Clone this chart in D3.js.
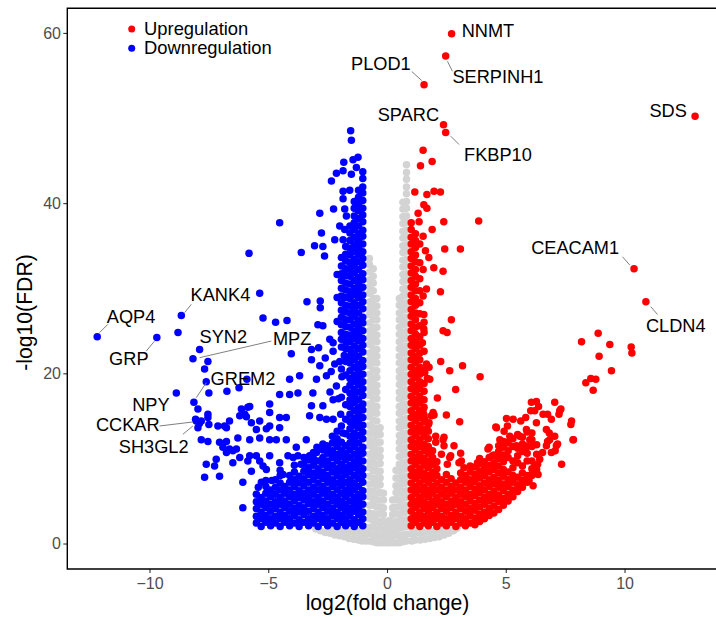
<!DOCTYPE html>
<html><head><meta charset="utf-8">
<script src="https://cdn.jsdelivr.net/npm/d3@7"></script>
<style>html,body{margin:0;padding:0;background:#fff;} svg{display:block;}</style>
</head><body>
<svg id="chart" width="716" height="619"></svg>
<script>
// ---------------- DATA (log2 fold change, -log10 FDR) ----------------
const xTicks = [-10, -5, 0, 5, 10];
const yTicks = [0, 20, 40, 60];
const legendLabels = ["Upregulation", "Downregulation"];

// not significant (grey), dense columns: [log2FC, -log10FDR ...]
const nsCols = [
 [-3.0,1.7],[-2.8,1.5],[-2.6,1.3],[-2.4,1.2,1.9],[-2.2,1.0,1.8],[-2.0,0.9,1.7],[-1.8,0.8,1.6],[-1.6,0.6,1.4],[-1.4,0.5,1.3],[-1.2,0.4,1.2,1.9],[-1.05,0.3,1.1,1.8],
 [-0.88,0.3,1.1,1.9],
 [-0.74,0.3,1.2,1.9,2.9,3.6,4.5,5.5,6.2,7.0,7.9,8.9,9.6,10.5,11.5,12.2,13.0,13.9,14.9,15.6,16.4,17.4,18.2,19.0,19.9,20.9,21.6,22.4,23.4,24.2,25.0,25.9,26.9,27.6,28.4,29.4,30.2,31.0,31.9,32.8,33.5],
 [-0.58,0.2,1.0,1.9,2.7,3.5,4.5,5.2,6.1,7.0,7.7,8.6,9.5,10.3,11.1,12.0,12.9,13.6,14.5,15.4,16.2,17.0,17.9,18.8,19.5,20.4,21.3,22.1,22.9,23.8,24.7,25.4,26.3,27.2,28.0,28.8,29.7,30.6,31.4,32.3],
 [-0.43,0.1,0.9,1.7,2.6,3.4,4.3,5.1,5.9,6.8,7.6,8.5,9.3,10.2,11.0,11.8,12.7,13.5,14.4,15.3,16.1,17.0,17.8,18.6,19.5,20.3,21.2,22.0,22.8,23.7,24.5,25.4,26.3,27.1,27.9,28.8],
 [-0.29,0.1,0.9,1.8,2.6,3.5,4.3,5.1,6.0,6.9,7.7,8.5,9.4,10.2,11.0,11.9,12.8,13.6],
 [-0.15,0.1,0.9,1.7,2.6,3.4,4.2,5.1,5.9],
 [-0.02,0.1,0.9,1.7,2.5],
 [0.1,0.1,0.9,1.8,2.7],
 [0.24,0.1,0.9,1.7,2.5,3.4,4.2,5.1],
 [0.38,0.1,1.0,1.8,2.6,3.5,4.3,5.2,6.0,6.8,7.7,8.6],
 [0.52,0.1,0.9,1.8,2.6,3.4,4.3,5.1,6.0,6.8,7.6,8.5,9.3,10.2,11.1,11.9,12.7,13.6,14.4,15.3,16.1,17.0,17.8,18.7,19.5,20.3,21.2,22.0,22.9,23.7,24.6,25.4,26.3,27.1,28.0,28.8],
 [0.67,0.2,1.0,1.9,2.7,3.6,4.4,5.3,6.1,7.0,7.8,8.7,9.5,10.4,11.2,12.1,12.9,13.8,14.6,15.5,16.3,17.2,18.0,18.9,19.7,20.6,21.4,22.3,23.1,24.0,24.8,25.7,26.5,27.4,28.2,29.1,29.9,30.8,31.6,32.5,33.3,34.2,35.0,35.9,36.7,37.6,38.4,39.3,40.1],
 [0.82,0.3,1.1,2.0,2.8,3.7,4.5,5.4,6.2,7.1,7.9,8.8,9.6,10.5,11.3,12.2,13.0,13.9,14.7,15.6,16.4,17.3,18.1,19.0,19.8,20.7,21.5,22.4,23.2,24.1,24.9,25.8,26.6,27.5,28.3,29.2,30.0,30.9,31.7,32.6,33.4,34.3,35.1,36.0,36.8,37.7,38.5,39.4,40.2,41.1,41.9,42.8,43.6,44.5],
 [1.05,0.3,1.1,1.8],[1.2,0.4,1.2,1.9],[1.4,0.4,1.2],[1.6,0.5,1.3],[1.8,0.6,1.4],[2.0,0.7,1.5],[2.2,0.8,1.6],[2.4,1.0,1.8],[2.6,1.2,1.9],[2.8,1.5],[2.95,1.8]
];

// downregulated (blue), dense columns
const downCols = [
 [-1.02,2.1,2.9,3.7,4.6,5.5,6.2,7.2,8.0,8.8,9.7,10.6,11.3,12.3,13.1,13.9,14.8,15.7,16.4,17.4,18.2,19.0,19.9,20.8,21.5,22.5,23.3,24.1,25.0,25.9,26.6,27.6,28.4,29.2,30.1,31.0,31.7,32.7,33.5,34.3,35.2,36.1,36.8,37.8,38.6,39.4,40.3,41.2,41.9,42.9,43.7],
 [-1.2,2.5,3.4,4.2,5.0,5.8,6.7,7.6,8.5,9.3,10.1,10.9,11.8,12.7,13.6,14.4,15.2,16.0,16.9,17.8,18.7,19.5,20.3,21.1,22.0,22.9,23.8,24.6,25.4,26.2,27.1,28.0,28.9,29.7,30.5,31.3,32.2,33.1,34.0,34.8,35.6,36.4,37.3,38.2,39.1,39.9,40.7,41.5],
 [-1.38,2.0,2.8,3.8,4.6,5.4,6.3,7.1,8.0,8.9,9.6,10.5,11.4,12.2,13.0,13.9,14.7,15.6,16.5,17.3,18.1,19.0,19.8,20.7,21.6,22.4,23.2,24.1,24.9,25.8,26.7,27.5,28.3,29.2,30.0,30.9,31.8,32.6,33.4,34.3,35.1,36.0,36.9,37.7,38.5,39.4,40.2],
 [-1.56,2.4,3.3,4.1,5.0,5.9,6.7,7.5,8.4,9.2,10.1,11.0,11.8,12.6,13.5,14.3,15.2,16.1,16.9,17.7,18.6,19.4,20.3,21.2,22.0,22.8,23.7,24.5,25.4,26.3,27.1,27.9,28.8,29.6,30.5,31.4,32.2,33.0,33.9,34.7,35.6,36.5,37.3],
 [-1.74,2.1,2.9,3.8,4.6,5.5,6.3,7.2,8.1,8.9,9.8,10.6,11.5,12.9,14.6,16.3,18.1,19.8,21.4,22.9,23.8,24.6,25.5,26.3,27.2,28.0,28.9,29.8,30.6,31.5,32.3,33.2,34.0,34.9],
 [-1.92,2.5,3.3,4.2,5.0,5.9,6.8,7.6,8.5,9.3,10.2,11.0,11.9,13.8,17.2,20.5,23.1,24.0,24.8,25.7,26.6,27.4,28.3,29.1,30.0,30.9,31.7,32.6,33.6],
 [-2.1,2.0,2.9,3.7,4.6,5.4,6.3,7.1,8.0,8.8,9.7,10.5,11.4,12.3,13.2,26.1,28.9,31.6],
 [-2.3,2.4,3.3,4.1,5.0,5.8,6.7,7.5,8.4,9.2,10.1,10.9,11.8,12.6],
 [-2.5,2.1,2.9,3.8,4.6,5.5,6.3,7.2,8.0,8.9,9.7,10.6,11.4],
 [-2.7,2.5,3.3,4.2,5.0,5.9,6.7,7.6,8.4,9.3,10.1,11.0,11.7],
 [-2.9,2.0,2.9,3.7,4.6,5.4,6.3,7.1,8.0,8.8,9.7],
 [-3.1,2.4,3.2,4.1,4.9,5.8,6.6,7.5,8.3,9.2,10.0,10.7],
 [-3.3,2.1,2.9,3.8,4.7,5.5,6.3,7.2,8.1,8.9,9.8],
 [-3.5,2.5,3.4,4.2,5.1,5.9,6.8,7.6,8.5,9.3,10.1],
 [-3.7,2.0,2.8,3.7,4.5,5.4,6.2,7.1,7.9],
 [-3.9,2.4,3.3,4.1,5.0,5.8,6.7,7.5,8.4,9.2],
 [-4.1,2.1,2.9,3.8,4.6,5.5,6.3,7.2,8.0],
 [-4.3,2.5,3.3,4.2,5.0,5.9,6.7],
 [-4.5,2.0,2.9,3.7,4.6,5.4,6.3,7.1,8.0,8.6],
 [-4.7,2.4,3.2,4.1,4.9,5.8,6.6,7.5],
 [-4.9,2.1,2.9,3.8,4.6,5.5,6.3],
 [-5.1,2.5,3.3,4.2,5.0,5.9,6.7,7.4],
 [-5.3,2.0,2.9,3.7,4.6,5.4],
 [-5.5,2.4,3.2,4.1,4.9,5.8]
];

// downregulated (blue), scattered points [log2FC, -log10FDR]
const downPts = [
 [-1.53,48.5],[-1.50,47.4],[-1.22,45.4],[-1.43,45.1],[-1.29,44.2],[-1.82,44.8],[-2.13,43.5],[-2.34,42.6],[-1.85,43.8],[-1.50,43.4],[-1.57,41.5],[-1.85,41.4],[-1.85,40.5],[-1.78,39.3],[-2.25,39.3],[-1.71,38.5],[-1.99,37.3],[-1.78,36.9],[-2.83,38.8],[-2.76,36.5],[-3.05,35.0],[-2.70,34.9],[-2.63,33.8],[-3.61,34.2],[-2.20,35.7],[-1.85,35.7],[-4.52,37.7],[-5.81,34.1],[-5.36,29.4],[-3.37,28.4],[-2.81,28.5],[-2.81,27.7],[-2.91,25.7],[-2.70,25.6],
 [-8.80,24.8],[-7.54,21.4],[-7.68,20.5],[-7.61,19.0],[-7.50,17.7],[-7.96,15.8],[-8.06,14.6],[-7.82,14.4],[-7.54,14.8],[-7.50,14.0],[-7.96,13.6],[-7.54,15.2],[-7.12,13.8],[-6.84,13.8],[-6.63,14.4],[-6.76,13.6],[-6.13,15.8],[-5.78,16.1],[-6.20,15.0],[-5.92,14.9],[-5.71,14.2],[-5.36,14.4],[-5.50,13.4],[-5.08,13.5],[-4.94,13.8],[-4.52,13.6],[-4.24,14.8],[-4.52,14.8],[-4.94,16.4],[-4.94,15.4],[-4.52,17.5],[-4.10,17.5],[-3.75,17.7],[-4.10,19.3],[-3.68,19.7],[-4.03,22.3],[-3.18,21.6],[-2.97,19.3],[-3.12,17.7],[-3.18,16.2],[-3.26,15.0],[-2.83,14.8],[-2.55,14.6],[-2.27,14.6],[-2.70,16.2],[-2.27,16.9],[-2.13,18.5],[-2.20,21.1],[-1.99,21.4],[-2.27,23.6],[-1.71,23.6],[-2.83,20.9],[-2.55,19.7],[-5.90,19.3],[-6.74,17.9],[-6.23,18.3],[-5.86,16.0],[-5.99,15.2],
 [-7.82,12.2],[-7.54,12.0],[-7.05,11.9],[-6.76,12.0],[-6.28,12.4],[-5.78,12.2],[-5.36,12.4],[-4.94,12.2],[-4.66,12.2],[-4.24,12.2],[-3.82,11.3],[-3.40,12.2],[-3.26,10.3],[-2.97,10.7],[-2.55,11.5],[-2.13,11.9],
 [-7.61,9.3],[-7.26,9.1],[-7.68,7.8],[-7.05,7.9],[-7.19,9.9],[-6.76,10.7],[-6.49,9.5],[-6.20,10.1],[-5.78,10.3],[-5.36,9.7],[-4.94,10.3],[-4.52,9.5],[-4.17,10.3],[-3.75,10.3],
 [-6.07,4.2],[-5.29,7.2],[-5.08,8.7],[-5.71,8.5],[-6.63,11.1],[-6.91,11.3],[-6.34,11.1],[-6.07,7.2],[-6.49,10.9],[-5.86,9.7],[-5.50,10.3],[-5.22,9.1],
 [-5.22,26.5],[-4.69,26.0],[-4.21,26.2],[-3.18,22.8],[-2.88,23.0],[-2.41,24.0],[-2.27,22.6],
 [-1.95,15.2],[-2.05,17.0],[-1.90,19.6],[-2.35,20.2],[-1.80,22.1],[-2.40,17.8],[-2.60,21.8],[-1.86,13.0],
 [-4.38,8.1],[-3.62,9.3],[-4.85,7.4],[-5.42,6.6],[-2.95,11.3],[-3.95,10.1]
];

// upregulated (red), dense columns
const upCols = [
 [1.02,2.1,2.9,3.8,4.6,5.4,6.3,7.1,8.0,8.8,9.7,10.5,11.4,12.2,13.1,13.9,14.8,15.6,16.5,17.3,18.2,19.0,19.9,20.7,21.6,22.4,23.3,24.1,25.0,25.8,26.7,27.5,28.4,29.2,30.1,30.9,31.8,32.6,33.5,34.3,35.2,36.0,36.9,37.7],
 [1.2,2.5,3.3,4.2,5.0,5.9,6.7,7.6,8.4,9.3,10.1,11.0,11.8,12.7,13.5,14.4,15.2,16.1,16.9,17.8,18.6,19.5,20.3,21.2,22.0,22.9,23.7,24.6,25.4,26.3,27.1,28.0,28.8,29.7,30.5,31.4,32.2,33.1,33.9,34.8,35.6,36.4],
 [1.38,2.0,2.9,3.7,4.6,5.4,6.3,7.1,8.0,8.8,9.7,10.5,11.4,12.2,13.1,13.9,14.8,15.6,16.5,17.3,18.2,19.0,19.9,20.7,21.6,22.4,23.3,24.3,25.6,27.0,28.3,29.7,31.1,33.0,35.2],
 [1.56,2.4,3.2,4.1,4.9,5.8,6.6,7.5,8.3,9.2,10.0,10.9,11.7,12.6,13.4,14.3,15.1,16.0,16.9,17.9,18.8,20.4],
 [1.74,2.1,2.9,3.8,4.6,5.5,6.3,7.2,8.0,8.9,9.7,10.6,11.4,12.3,13.2,14.0],
 [1.92,2.5,3.3,4.2,5.0,5.9,6.7,7.6,8.4,9.3,10.1,10.9],
 [2.1,2.0,2.9,3.7,4.6,5.4,6.3,7.1,8.0,8.8,9.6],
 [2.3,2.4,3.2,4.1,4.9,5.8,6.6,7.5],
 [2.5,2.1,2.9,3.8,4.6,5.5,6.3,7.2,8.1],
 [2.7,2.5,3.3,4.2,5.0,5.9,6.7,7.6],
 [2.9,2.0,2.9,3.7,4.6,5.4,6.3,7.1],
 [3.1,2.4,3.2,4.1,4.9,5.8,6.6,7.5,8.3],
 [3.3,2.1,2.9,3.8,4.6,5.5,6.3,7.2,8.0],
 [3.5,2.4,3.3,4.1,5.0,5.8,6.7,7.5,8.4,9.1],
 [3.7,2.2,3.0,3.9,4.7,5.6,6.4,7.3,8.1,9.0],
 [3.9,2.6,3.4,4.3,5.1,6.0,6.8,7.7,8.5,9.4,10.0],
 [4.1,2.9,3.7,4.6,5.4,6.3,7.1,8.0,8.8,9.6],
 [4.3,3.3,4.1,5.0,5.8,6.7,7.5,8.4,9.2,10.1],
 [4.5,3.6,4.4,5.3,6.1,7.0,7.8,8.7,9.5,10.4],
 [4.7,4.0,4.9,5.7,6.6,7.4,8.3,9.1,10.0,10.8,11.5],
 [4.9,4.5,5.3,6.2,7.0,7.9,8.7,9.6,10.4,11.3,12.0],
 [5.1,5.0,5.8,6.7,7.5,8.4,10.1,10.9,11.8],
 [5.3,5.5,6.3,7.2,8.0,8.9,9.7,11.4,12.3],
 [5.5,6.1,6.9,7.8,9.5,10.3,11.2,12.8],
 [5.7,6.6,7.4,8.3,9.1,10.8,11.7,12.5],
 [5.9,7.2,8.0,9.7,10.6,11.4,13.1],
 [6.1,8.0,8.8,9.7,11.4,12.2,13.0],
 [6.3,8.7,10.5,11.6]
];

// upregulated (red), scattered points
const upPts = [
 [1.52,46.2],[1.41,44.4],[1.90,44.9],[1.17,41.3],[1.68,41.0],[1.98,41.4],[2.25,41.3],[1.55,39.8],[1.68,39.4],[1.31,38.8],[1.35,37.8],[2.39,37.8],[3.86,37.9],[1.90,36.9],[1.52,36.1],[2.43,34.6],[3.09,34.6],[1.62,34.4],[1.76,33.6],[1.97,32.4],[2.36,32.0],[1.52,32.2],[1.66,29.9],[2.25,29.6],[1.52,29.1],[1.55,26.9],[2.71,26.3],[1.55,25.2],[2.36,25.0],[2.53,24.8],[1.56,26.0],[1.56,24.8],[1.49,23.6],[1.56,22.6],
 [2.26,21.4],[2.64,20.3],[3.18,20.9],[3.92,19.6],[2.89,18.1],[2.12,17.1],[1.70,19.4],[1.77,20.7],[2.50,15.1],[3.06,14.3],[1.98,15.1],[1.77,14.2],[2.05,12.6],[2.40,12.5],[2.05,11.9],[2.40,11.5],[2.82,11.5],[3.10,10.6],[2.68,10.3],[2.54,9.3],[3.03,9.5],[2.36,12.2],[2.29,10.5],[2.64,10.1],[3.13,9.7],[3.83,9.3],
 [4.25,11.1],[4.61,13.6],[5.03,14.7],[5.31,14.6],[4.75,12.2],[5.03,11.9],[5.17,12.6],[5.45,11.5],[5.59,12.6],[5.87,13.4],[6.01,12.2],[5.80,11.5],[6.29,14.2],[6.22,15.6],[6.08,16.6],[6.29,16.7],[6.57,15.2],[6.71,13.4],[6.85,12.2],[7.06,12.6],[6.71,11.5],[7.13,11.5],[6.92,10.7],[7.06,16.6],[7.27,15.6],[6.92,14.6],[7.77,14.4],[7.83,12.2],[7.35,9.3],[6.36,8.1],[6.15,6.8],[5.94,7.6],[6.43,9.9],[6.22,9.1],
 [1.52,15.6],[1.87,15.0],[1.94,15.4],[1.59,14.6],[1.66,21.1],[1.59,20.1],[1.80,19.3],
 [4.58,13.7],[5.63,14.4],[5.84,14.8],[6.05,15.6],[6.38,16.1],[6.76,15.2],[7.32,15.8],[7.24,15.2],[7.74,14.0],[7.85,12.2],[7.08,10.9],[7.18,11.7],[6.83,13.0],[6.76,12.0],[6.55,10.7],[6.34,9.3],[6.12,8.3],[5.98,7.4],[5.07,13.8],[4.93,13.2],[4.30,11.3],[4.44,10.3],[3.81,9.5],[4.09,9.5],[3.24,8.9],
 [8.19,23.7],[8.89,24.7],[9.38,23.4],[8.93,22.0],[9.45,20.3],[10.28,23.1],[10.31,22.4],[8.37,18.9],[8.58,19.4],[8.79,19.3],[8.68,18.0]
];

// labelled genes
const labelGenes = ["NNMT","SERPINH1","PLOD1","SPARC","FKBP10","SDS","CEACAM1","CLDN4","AQP4","GRP","KANK4","SYN2","MPZ","GREM2","NPY","CCKAR","SH3GL2"];
const labelLog2FC = [2.72,2.47,1.56,2.38,2.47,12.97,10.4,10.9,-12.2,-9.69,-8.66,-7.89,-8.17,-8.13,-8.87,-8.03,-7.9];
const labelLogFDR = [59.9,57.3,53.9,49.2,48.3,50.2,32.3,28.4,24.3,24.2,26.8,22.8,21.7,16.6,17.7,14.4,14.1];

// ---------------- LAYOUT / STYLE ----------------
const COLORS = {up:"#FF0000", down:"#0000FF", ns:"#D3D3D3"};
const R = 3.75;
const FONT = "'Liberation Sans', Arial, Helvetica, sans-serif";
const LABEL_FS = 18.2, LEGEND_FS = 18.4, TICK_FS = 16, TITLE_FS = 21.2;
const panel = {left:67.3, top:8.3, right:725, bottom:569};
// text offsets (px) of each label from its point; seg = [x1,y1,x2,y2] offsets of leader line
const labelLayout = {
 NNMT:{dx:10.1,dy:-3.5,a:"start"},
 SERPINH1:{dx:6.8,dy:20.4,a:"start",seg:[1.8,5.4,6.8,15.4]},
 PLOD1:{dx:-13.3,dy:-21.3,a:"end",seg:[-2.3,-4.3,-12.3,-13.3]},
 SPARC:{dx:-4.5,dy:-10.3,a:"end"},
 FKBP10:{dx:18.4,dy:22,a:"start",seg:[5.1,3.7,13.4,12]},
 SDS:{dx:-8.2,dy:-5.8,a:"end"},
 CEACAM1:{dx:-14.9,dy:-20.9,a:"end",seg:[-4.2,-3.5,-11.5,-11.9]},
 CLDN4:{dx:0,dy:23.6,a:"start",seg:[4.9,4.9,11.6,12.6]},
 AQP4:{dx:9.6,dy:-20.7,a:"start",seg:[2.3,-4.1,10.6,-12.4]},
 GRP:{dx:-8.3,dy:21.1,a:"end",seg:[-2.3,3.5,-10.6,13.5]},
 KANK4:{dx:9.3,dy:-21.1,a:"start",seg:[3.3,-2.8,10,-11.1]},
 SYN2:{dx:0,dy:-13.4,a:"start"},
 MPZ:{dx:80,dy:-20.2,a:"start",seg:[6.7,-1.2,78.4,-17.8]},
 GREM2:{dx:16.7,dy:-23.6,a:"start",seg:[2.4,-4.6,12.4,-19.6]},
 NPY:{dx:-6.7,dy:11.4,a:"end"},
 CCKAR:{dx:-36.7,dy:3.3,a:"end",seg:[-3.4,1,-36.7,5]},
 SH3GL2:{dx:-10.8,dy:22.5,a:"end",seg:[-6.5,2.5,-16.5,10.8]}
};

// ---------------- DRAW ----------------
const svg = d3.select("#chart");
const x = d3.scaleLinear().domain([-13.46, 14.23]).range([panel.left, panel.right]);
const y = d3.scaleLinear().domain([-2.995, 62.895]).range([panel.bottom, panel.top]);

function flatten(cols){ const out=[]; cols.forEach(c=>{ for(let i=1;i<c.length;i++) out.push([c[0],c[i]]); }); return out; }
const nsAll = flatten(nsCols);
const downAll = flatten(downCols).concat(downPts);
const upAll = flatten(upCols).concat(upPts);
const labelled = labelGenes.map((g,i)=>({g, fc:labelLog2FC[i], q:labelLogFDR[i]}));

svg.append("rect").attr("width",716).attr("height",619).attr("fill","#fff");

const gPts = svg.append("g");
function drawPts(data, color){
  gPts.append("g").selectAll("circle").data(data).join("circle")
    .attr("cx",d=>x(d[0])).attr("cy",d=>y(d[1])).attr("r",R).attr("fill",color);
}
drawPts(nsAll, COLORS.ns);
drawPts(downAll, COLORS.down);
drawPts(upAll, COLORS.up);
gPts.append("g").selectAll("circle").data(labelled).join("circle")
  .attr("cx",d=>x(d.fc)).attr("cy",d=>y(d.q)).attr("r",R)
  .attr("fill",d=>d.fc>0?COLORS.up:COLORS.down);

// labels & leader lines
const gLab = svg.append("g");
labelled.forEach(d=>{
  const L = labelLayout[d.g]; const px = x(d.fc), py = y(d.q);
  if (L.seg) gLab.append("line")
    .attr("x1",px+L.seg[0]).attr("y1",py+L.seg[1]).attr("x2",px+L.seg[2]).attr("y2",py+L.seg[3])
    .attr("stroke","#808080").attr("stroke-width",1);
  gLab.append("text").attr("x",px+L.dx).attr("y",py+L.dy+0.358*LABEL_FS)
    .attr("text-anchor",L.a).attr("font-family",FONT).attr("font-size",LABEL_FS).attr("fill","#000")
    .text(d.g);
});

// axes
const xAxis = svg.append("g").attr("transform",`translate(0,${panel.bottom})`)
  .call(d3.axisBottom(x).tickValues(xTicks).tickSize(4).tickPadding(5.1));
const yAxis = svg.append("g").attr("transform",`translate(${panel.left},0)`)
  .call(d3.axisLeft(y).tickValues(yTicks).tickSize(4).tickPadding(2.3));
[xAxis,yAxis].forEach(a=>{
  a.select(".domain").remove();
  a.selectAll(".tick line").attr("stroke","#333").attr("stroke-width",1.1);
  a.selectAll(".tick text").attr("font-family",FONT).attr("font-size",TICK_FS).attr("fill","#4D4D4D");
  a.attr("font-family",FONT);
});

// panel border
svg.append("path")
  .attr("d",`M${panel.right},${panel.top}H${panel.left}V${panel.bottom}H${panel.right}`)
  .attr("fill","none").attr("stroke","#000").attr("stroke-width",1.4);

// axis titles
svg.append("text").attr("x",387.5).attr("y",610).attr("text-anchor","middle")
  .attr("font-family",FONT).attr("font-size",TITLE_FS).attr("fill","#000").text("log2(fold change)");
svg.append("text").attr("transform","translate(32,312.5) rotate(-90)").attr("text-anchor","middle")
  .attr("font-family",FONT).attr("font-size",TITLE_FS).attr("fill","#000").text("-log10(FDR)");

// legend
const legend = svg.append("g");
legendLabels.forEach((t,i)=>{
  const cy = 29 + i*19.3;
  legend.append("circle").attr("cx",131.7).attr("cy",cy).attr("r",3.5).attr("fill",i===0?COLORS.up:COLORS.down);
  legend.append("text").attr("x",144).attr("y",cy+5.6).attr("font-family",FONT).attr("font-size",LEGEND_FS).attr("fill","#000").text(t);
});
</script>
</body></html>
